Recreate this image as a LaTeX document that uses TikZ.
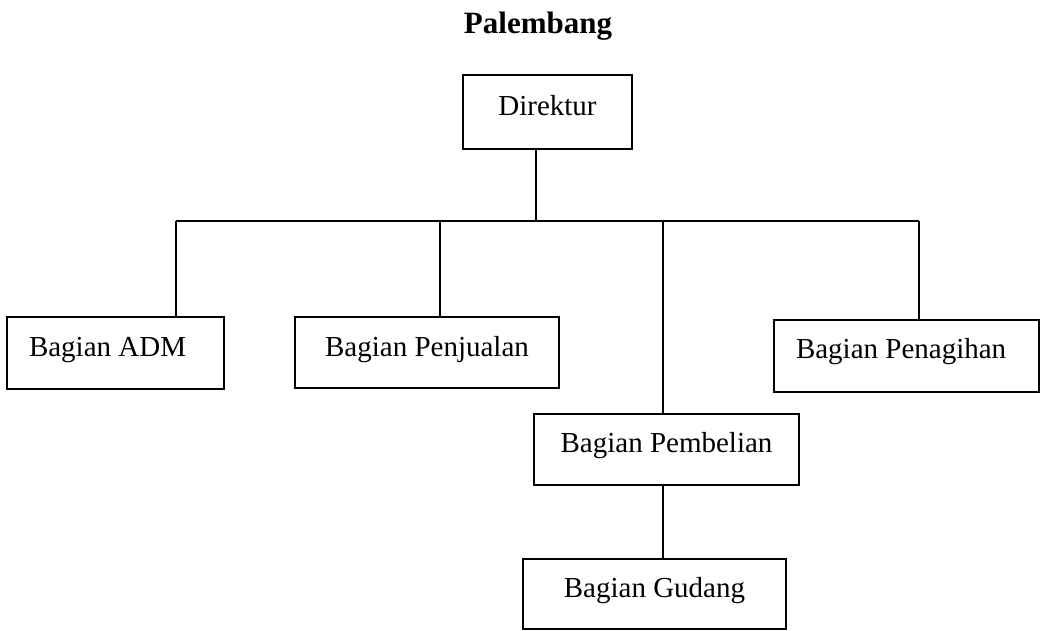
\documentclass[tikz,border=0pt]{standalone}
\usepackage{fontspec}
\setmainfont{Liberation Serif}
\begin{document}
\begin{tikzpicture}[x=1pt,y=-1pt,
  every node/.style={font=\fontsize{29}{34}\selectfont},
  unit/.style={draw, line width=1.5pt, inner sep=0pt, text height=#1},
  link/.style={line width=1.5pt}]
\useasboundingbox (0,0) rectangle (1041,630);

% title
\node[anchor=base, font=\fontsize{31}{36}\selectfont\bfseries] (title) at (538,33) {Palembang};

% units
\node[unit=40pt, text depth=34pt, minimum width=169pt] (dir) at (547.5,112) {Direktur};
\node[unit=39pt, text depth=33pt, inner xsep=22pt] (adm) at (115.5,353) {\makebox[173pt][l]{Bagian ADM}};
\node[unit=39pt, text depth=32pt, minimum width=264pt] (jual) at (427,352.5) {Bagian Penjualan};
\node[unit=38pt, text depth=34pt, inner xsep=22pt] (tagih) at (906.5,356) {\makebox[221pt][l]{Bagian Penagihan}};
\node[unit=38pt, text depth=33pt, minimum width=265pt] (beli) at (666.5,449.5) {Bagian Pembelian};
\node[unit=38pt, text depth=32pt, minimum width=263pt] (gudang) at (654.5,594) {Bagian Gudang};

% junction points on the horizontal bus
\coordinate (jd) at (536,221);
\coordinate (ja) at (176,221);
\coordinate (jj) at (440,221);
\coordinate (jb) at (663,221);
\coordinate (jt) at (919,221);

% connectors
\draw[link] (dir.south -| jd) -- (jd);
\draw[link] (ja) -- (jt);
\draw[link] (ja) -- (adm.north -| ja);
\draw[link] (jj) -- (jual.north -| jj);
\draw[link] (jb) -- (beli.north -| jb);
\draw[link] (jt) -- (tagih.north -| jt);
\draw[link] (beli.south -| jb) -- (gudang.north -| jb);
\end{tikzpicture}
\end{document}
